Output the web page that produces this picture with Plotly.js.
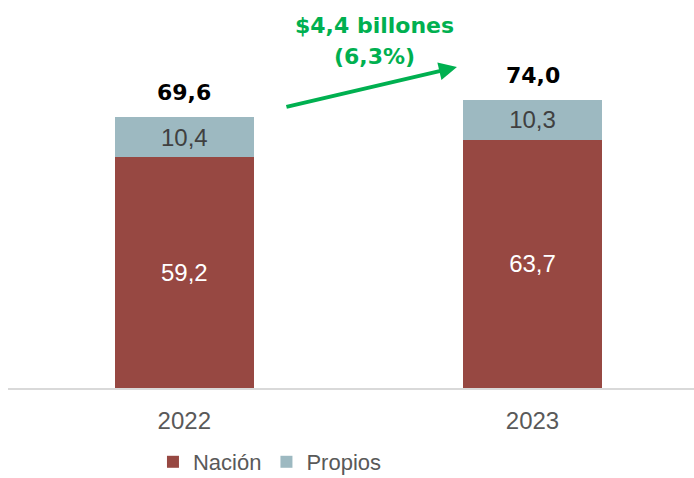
<!DOCTYPE html>
<html>
<head>
<meta charset="utf-8">
<script src="https://cdn.plot.ly/plotly-3.0.1.min.js"></script>
<style>html,body{margin:0;padding:0;background:#fff;}#chart{width:694px;height:478px;}</style>
</head>
<body>
<div id="chart"></div>
<script>
var years = ['2022', '2023'];
var nacion = [59.2, 63.7];
var propios = [10.4, 10.3];
var totals = [69.6, 74.0];
var growthLines = ['$4,4 billones', '(6,3%)'];

function fmt(v) { return v.toFixed(1).replace('.', ','); }

var numFont = 'Liberation Sans, Arial, sans-serif';
var legendFont = 'Liberation Sans Narrow, Arial Narrow, Liberation Sans, Arial, sans-serif';
var boldFont = 'DejaVu Sans, sans-serif';

var traces = [
  {
    type: 'bar', name: 'Nación', x: years, y: nacion, width: 0.4,
    marker: {color: '#974842'},
    text: nacion.map(fmt), textposition: 'inside', insidetextanchor: 'middle',
    textangle: 0, constraintext: 'none',
    textfont: {family: numFont, size: 24, color: '#ffffff'},
    hoverinfo: 'none'
  },
  {
    type: 'bar', name: 'Propios', x: years, y: propios, width: 0.4,
    marker: {color: '#9DB9C1'},
    text: propios.map(fmt), textposition: 'inside', insidetextanchor: 'middle',
    textangle: 0, constraintext: 'none',
    textfont: {family: numFont, size: 24, color: '#404040'},
    hoverinfo: 'none'
  }
];

var annotations = totals.map(function (t, i) {
  return {
    x: i, y: t, xref: 'x', yref: 'y', text: '<b>' + fmt(t) + '</b>',
    showarrow: false, yanchor: 'middle', yshift: 24,
    font: {family: boldFont, size: 22, color: '#000000'}
  };
});

annotations.push({
  x: 0.783, y: 82.4, xref: 'x', yref: 'y',
  ax: 0.289, ay: 72.1, axref: 'x', ayref: 'y',
  showarrow: true, arrowhead: 2, arrowsize: 0.9, arrowwidth: 4, arrowcolor: '#00B050',
  text: ''
});
var lineY = [0.960, 0.876];
growthLines.forEach(function (s, k) {
  annotations.push({
    x: 0.545, y: lineY[k], xref: 'x', yref: 'paper', text: '<b>' + s + '</b>',
    showarrow: false, yanchor: 'middle', align: 'center',
    font: {family: boldFont, size: 22, color: '#00B050'}
  });
});

var layout = {
  width: 694, height: 478,
  margin: {l: 8, r: 0, t: 10, b: 90},
  paper_bgcolor: '#ffffff', plot_bgcolor: '#ffffff',
  barmode: 'stack', bargap: 0.6,
  showlegend: true,
  legend: {
    orientation: 'h', xref: 'container', yref: 'container',
    x: 0.389, xanchor: 'center', y: 0.0335, yanchor: 'middle',
    font: {family: legendFont, size: 22, color: '#595959'},
    traceorder: 'normal', itemwidth: 30
  },
  xaxis: {
    type: 'category', range: [-0.5063, 1.4638], fixedrange: true,
    showline: true, linecolor: '#D9D9D9', linewidth: 2,
    ticks: '', showgrid: false, zeroline: false, ticklabelstandoff: 10,
    tickfont: {family: numFont, size: 24, color: '#595959'}
  },
  yaxis: {
    range: [0, 97.05], visible: false, showgrid: false, zeroline: false, fixedrange: true
  },
  annotations: annotations
};

Plotly.newPlot('chart', traces, layout, {displayModeBar: false, staticPlot: true});
</script>
</body>
</html>
